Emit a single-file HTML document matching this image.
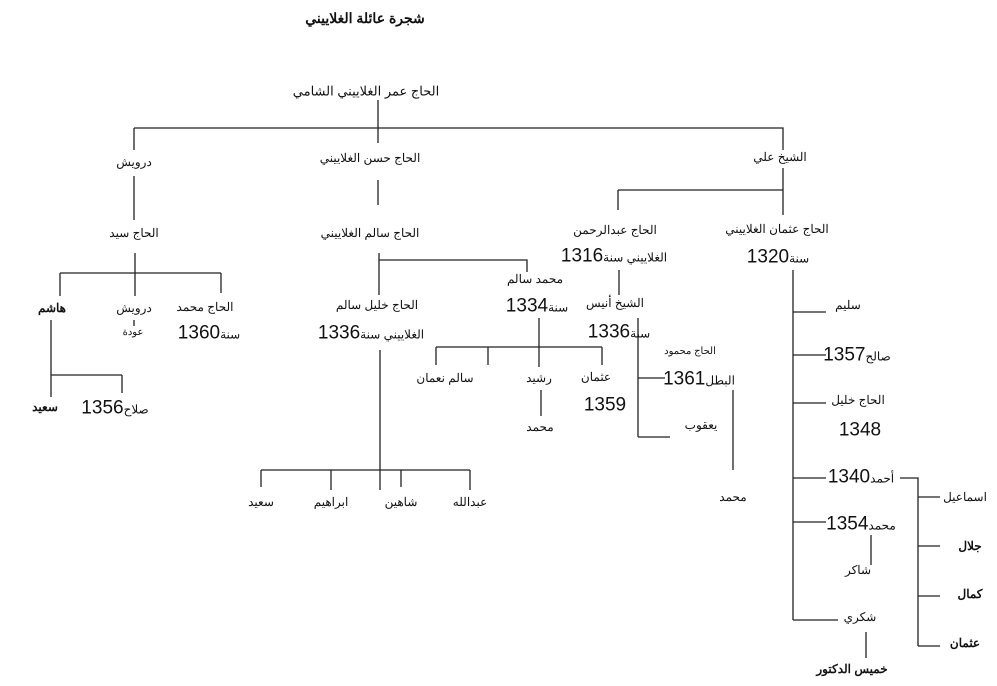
<!DOCTYPE html>
<html><head><meta charset="utf-8"><style>
body{margin:0;background:#fff}
#c{position:relative;width:997px;height:686px;overflow:hidden;background:#fff;font-family:"Liberation Sans","Noto Sans CJK SC",sans-serif;color:#111}
.t{position:absolute;transform:translate(-50%,-50%);white-space:nowrap;font-size:12px;direction:rtl;line-height:1}
.b{font-weight:bold}
.n{font-size:19px;direction:ltr;unicode-bidi:isolate}
.s{font-size:10px}
svg{position:absolute;left:0;top:0}
</style></head><body><div id="c">
<svg width="997" height="686"><g stroke="#222" stroke-width="1.3" fill="none">
<path d="M378 100V143M134 128H783V150M134 128V150"/>
<path d="M378 180V205M379 253V295M379 260H527V272"/>
<path d="M380 350V490M261 470H470M261 470V487M331 470V490M401 470V487M470 470V490"/>
<path d="M539 318V367M436 347H602M436 347V365M488 347V365M602 347V365M541 390V416"/>
<path d="M783 168V215M618 190H783M618 190V210M619 270V295M638 318V437M638 378H665M638 437H670M733 390V470"/>
<path d="M793 270V620M793 312H826M793 355H826M793 403H826M793 478H826M793 522H826M793 620H838M871 535V565M866 632V658"/>
<path d="M900 478H918V646M918 497H940M918 546H940M918 596H940M918 646H940"/>
<path d="M134 176V220M135 253V296M60 273H221M60 273V296M221 273V293M134 320V326M51 320V397M51 375H122M122 375V393"/>
</g></svg>
<div class="t b" style="left:365px;top:18px;font-size:14px">شجرة عائلة الغلاييني</div>
<div class="t" style="left:366px;top:91px;font-size:13px">الحاج عمر الغلاييني الشامي</div>
<div class="t" style="left:134px;top:162px">درويش</div>
<div class="t" style="left:370px;top:158px">الحاج حسن الغلاييني</div>
<div class="t" style="left:780px;top:157px">الشيخ علي</div>
<div class="t" style="left:134px;top:233px">الحاج سيد</div>
<div class="t" style="left:370px;top:233px">الحاج سالم الغلاييني</div>
<div class="t" style="left:615px;top:230px">الحاج عبدالرحمن</div>
<div class="t" style="left:777px;top:229px">الحاج عثمان الغلاييني</div>
<div class="t" style="left:614px;top:256px">الغلاييني سنة<span class="n">1316</span></div>
<div class="t" style="left:778px;top:257px">سنة<span class="n">1320</span></div>
<div class="t b" style="left:52px;top:308px">هاشم</div>
<div class="t" style="left:134px;top:308px">درويش</div>
<div class="t s" style="left:133px;top:333px">عودة</div>
<div class="t" style="left:205px;top:307px">الحاج محمد</div>
<div class="t" style="left:209px;top:333px">سنة<span class="n">1360</span></div>
<div class="t" style="left:377px;top:305px">الحاج خليل سالم</div>
<div class="t" style="left:371px;top:333px">الغلاييني سنة<span class="n">1336</span></div>
<div class="t" style="left:535px;top:279px">محمد سالم</div>
<div class="t" style="left:537px;top:306px">سنة<span class="n">1334</span></div>
<div class="t" style="left:615px;top:303px">الشيخ أنيس</div>
<div class="t" style="left:619px;top:332px">سنة<span class="n">1336</span></div>
<div class="t" style="left:848px;top:305px">سليم</div>
<div class="t s" style="left:690px;top:352px">الحاج محمود</div>
<div class="t" style="left:699px;top:379px">البطل<span class="n">1361</span></div>
<div class="t" style="left:857px;top:355px">صالح<span class="n">1357</span></div>
<div class="t" style="left:445px;top:378px">سالم نعمان</div>
<div class="t" style="left:539px;top:378px">رشيد</div>
<div class="t" style="left:596px;top:377px">عثمان</div>
<div class="t n" style="left:605px;top:405px">1359</div>
<div class="t" style="left:858px;top:400px">الحاج خليل</div>
<div class="t n" style="left:860px;top:430px">1348</div>
<div class="t b" style="left:45px;top:407px">سعيد</div>
<div class="t" style="left:115px;top:408px">صلاح<span class="n">1356</span></div>
<div class="t" style="left:540px;top:427px">محمد</div>
<div class="t" style="left:701px;top:425px">يعقوب</div>
<div class="t" style="left:861px;top:477px">أحمد<span class="n">1340</span></div>
<div class="t" style="left:733px;top:497px">محمد</div>
<div class="t" style="left:261px;top:502px">سعيد</div>
<div class="t" style="left:331px;top:502px">ابراهيم</div>
<div class="t" style="left:401px;top:502px">شاهين</div>
<div class="t" style="left:470px;top:502px">عبدالله</div>
<div class="t" style="left:965px;top:497px">اسماعيل</div>
<div class="t" style="left:861px;top:524px">محمد<span class="n">1354</span></div>
<div class="t b" style="left:970px;top:546px">جلال</div>
<div class="t" style="left:858px;top:570px">شاكر</div>
<div class="t b" style="left:970px;top:594px">كمال</div>
<div class="t" style="left:860px;top:617px">شكري</div>
<div class="t b" style="left:965px;top:643px">عثمان</div>
<div class="t b" style="left:852px;top:669px">خميس الدكتور</div>
</div></body></html>
